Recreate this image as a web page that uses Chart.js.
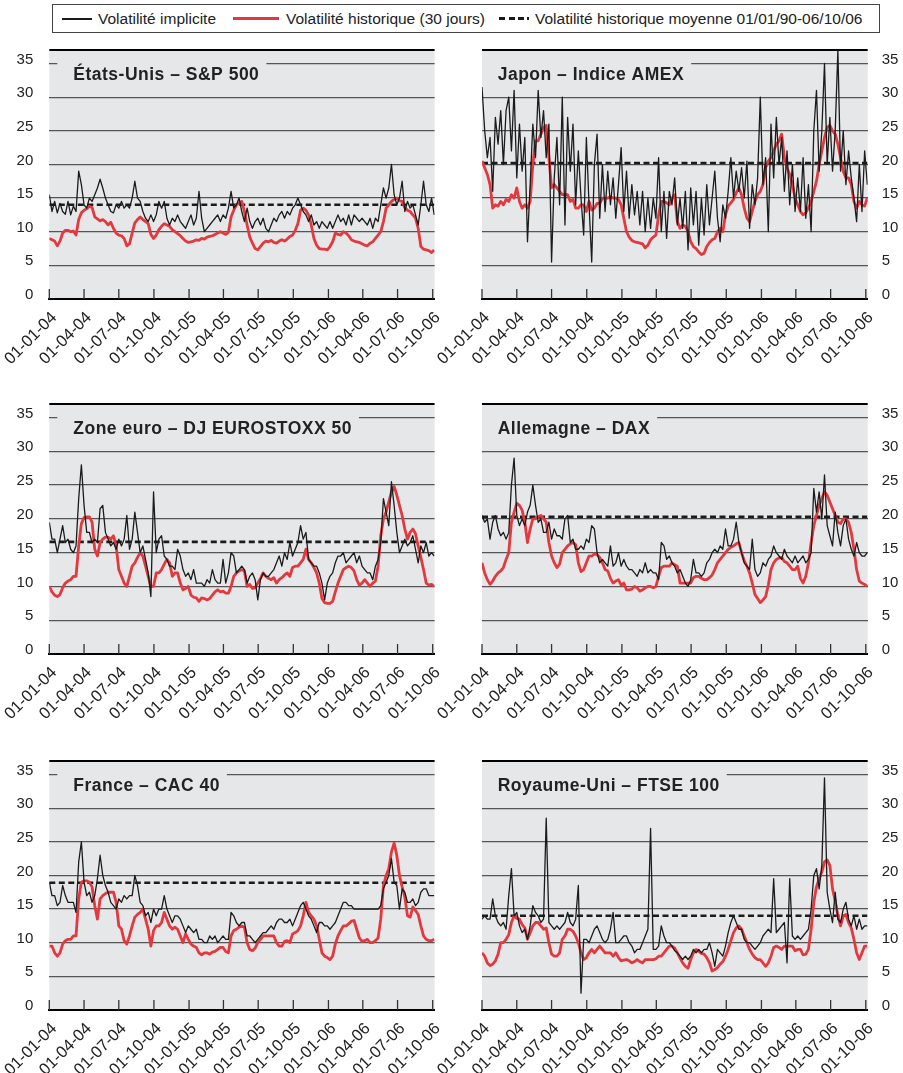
<!DOCTYPE html>
<html>
<head>
<meta charset="utf-8">
<script src="https://cdn.jsdelivr.net/npm/chart.js@4.4.1/dist/chart.umd.min.js"></script>
<style>
  html, body { margin: 0; padding: 0; }
  body { width: 903px; height: 1073px; overflow: hidden; position: relative; background: #fff;
         font-family: "Liberation Sans", Arial, sans-serif; }
  canvas { position: absolute; }
  #legend { position: absolute; left: 52px; top: 4px; width: 828px; height: 29px; box-sizing: border-box;
            border: 1px solid #444; font-size: 15.5px; color: #222; }
  #legend .sw { position: absolute; top: 13px; width: 30px; }
  #legend .lt { position: absolute; top: 5px; white-space: nowrap; }
</style>
</head>
<body>
<div id="legend">
  <span class="sw" style="left:9px; height:1.5px; background:#1b1b1b"></span>
  <span class="lt" style="left:45px">Volatilité implicite</span>
  <span class="sw" style="left:180px; width:46px; top:12px; height:3px; background:#e3383e"></span>
  <span class="lt" style="left:233px">Volatilité historique (30 jours)</span>
  <span class="sw" style="left:446px; top:12px; height:3px; background:repeating-linear-gradient(90deg,#1b1b1b 0 6px,transparent 6px 9.5px)"></span>
  <span class="lt" style="left:482px">Volatilité historique moyenne 01/01/90-06/10/06</span>
</div>
<script>
// Weekly readings (one value every 7 days from 01-01-04 to early 10-06)
const stepDays = 7;
const lastDay = 1009;

const tickDays = [0, 91, 182, 274, 366, 456, 547, 639, 731, 821, 912, 1004];
const tickLabels = ['01-01-04', '01-04-04', '01-07-04', '01-10-04', '01-01-05', '01-04-05',
                    '01-07-05', '01-10-05', '01-01-06', '01-04-06', '01-07-06', '01-10-06'];
const yTicks = [0, 5, 10, 15, 20, 25, 30, 35];

const titles = ['États-Unis – S&P 500', 'Japon – Indice AMEX', 'Zone euro – DJ EUROSTOXX 50',
                'Allemagne – DAX', 'France – CAC 40', 'Royaume-Uni – FTSE 100'];
const meanVol = [14.0, 20.2, 16.6, 20.3, 18.9, 14.0];

const usImplied = [15.5, 13, 14.5, 12.8, 14.2, 13, 12.6, 14.5, 12.5, 13.8, 13, 19, 17,
  14, 13.5, 15, 14.5, 15.5, 16.5, 17.8, 16.5, 15, 14, 13, 12.8, 14,
  13.5, 14.5, 13.5, 14, 13.5, 15, 17.5, 15, 14.5, 13, 12, 11.5, 12.5,
  11.5, 12.5, 14.5, 13.5, 14.5, 12, 11, 12, 11.5, 12.5, 11.5, 11, 10.5,
  11.5, 12.5, 11, 12, 16, 12, 10, 10.5, 11, 11.5, 12, 12.5, 11.5,
  12.5, 12, 13.5, 16, 13.5, 14, 15, 13, 11.5, 13.5, 11.5, 10.5, 11.5,
  12, 11, 12, 10.5, 10, 11, 12, 11.5, 12.5, 13, 12, 13, 12.5,
  13.5, 14, 15, 14, 13, 12.5, 11.5, 12.5, 11, 11.5, 10.5, 11.5, 11,
  10.5, 11.5, 10.5, 11.5, 12.5, 11.5, 12, 11, 12.5, 11, 12.5, 12, 11.5,
  12, 11.5, 11, 12, 10.5, 12, 11.5, 14, 16.5, 15, 16.5, 20, 15.5,
  14, 15, 17.5, 13, 14.5, 13.5, 14, 12.5, 11, 14, 17.5, 14, 13,
  15, 12.5];
const usHist = [9, 8.8, 8.6, 7.9, 8.6, 9.8, 10.2, 10.2, 10, 10.1, 9.5, 11.8, 12.8,
  13.2, 13.4, 13.8, 13.6, 12.2, 11.9, 11.6, 11.8, 11.5, 11, 11.4, 10.5, 9.8,
  9.5, 9.4, 9, 7.9, 8.2, 9.8, 11.3, 11.8, 12.2, 11.8, 11.5, 11.2, 9.6,
  9, 9.5, 10.3, 10.8, 11.2, 11, 10.8, 10.3, 10, 9.7, 9.4, 9, 8.6,
  8.4, 8.5, 8.6, 8.8, 8.7, 9, 8.9, 9.2, 9.3, 9.4, 9.6, 9.8, 10,
  9.8, 9.6, 9.9, 12.2, 13.2, 14, 14.3, 14.5, 13, 11, 9.2, 8.3, 7.5,
  7.3, 7.8, 8.3, 8.6, 8.5, 8.7, 8.4, 8.3, 8.6, 8.8, 8.6, 8.9, 9.3,
  9.5, 10.2, 11.2, 13.2, 13.5, 13.2, 12.5, 11, 9, 8, 7.5, 7.4, 7.4,
  7.3, 7.8, 8.5, 9.8, 9.6, 9.5, 10, 9.8, 9.4, 8.8, 8.6, 8.5, 8.4,
  8.2, 8, 7.9, 8.3, 8.5, 9, 9.5, 10, 11.5, 13.5, 14, 14.5, 14.8,
  15, 14.6, 14.5, 13.6, 13.2, 13, 12.5, 12, 10.5, 7.8, 7.4, 7.3, 7.2,
  6.9, 7.3];

const jpImplied = [31.5, 25, 21, 24, 16, 27, 23, 28, 20, 28, 30, 22, 31,
  18, 26, 19, 24, 8.5, 17, 26, 21, 31, 24, 28, 21, 26,
  5.5, 18, 24, 14, 30, 11, 27, 19, 26, 14, 22, 15, 9.5,
  24, 14, 5.5, 20, 24.5, 12, 20, 13, 19, 14, 18, 12, 17,
  22.5, 13, 19, 12, 17, 12.5, 16, 11, 16, 10, 15, 10.5, 15,
  12, 21, 10, 16, 9, 16, 14, 18, 11, 15, 10.5, 16, 7.3,
  16.5, 11, 16, 8, 15, 9.5, 17, 11, 15, 19, 12, 8.5, 14,
  12, 16, 21, 15, 19, 16, 19.5, 15, 20.5, 10.5, 17, 14, 18,
  30, 17, 21, 10, 26, 18, 27, 20, 24, 16, 22, 14, 20,
  13, 18, 13, 21, 12, 17, 10, 25, 31, 19, 25, 35, 20,
  27, 19, 25, 37, 19, 25, 17, 22, 18, 15, 11.5, 20, 13,
  22, 17];
const jpHist = [20.5, 19.5, 18.5, 17, 13.5, 14, 13.8, 14.5, 14, 14.8, 14.5, 15.5, 15,
  16.5, 14.5, 13.5, 14, 13.5, 14.5, 20, 23.5, 23.5, 24.5, 25.5, 25.8, 21,
  16.5, 17, 16.5, 16, 15.5, 15.5, 15.5, 14.5, 14.8, 13.5, 13.5, 14, 14,
  13, 14.5, 13.2, 13.5, 14.2, 14.2, 15, 15, 15, 15.2, 15, 15, 14.8,
  14, 12, 10, 9.2, 8.7, 8.5, 8.4, 8.3, 8.2, 7.6, 8, 8.8, 9.2,
  9.5, 12.5, 14.5, 14.5, 14.3, 14, 15, 15.5, 11.5, 10.5, 11, 10.8, 10,
  8.5, 7.8, 7.5, 7, 6.6, 6.8, 7.8, 8.4, 8.8, 9, 10, 10.5, 10,
  12.5, 13.8, 14.3, 14.8, 15.8, 16.5, 15.5, 13.5, 12, 11.5, 13, 14.5, 15.5,
  16, 17, 19.5, 20.5, 21, 22, 23, 23.5, 24.5, 21, 19.5, 18.5, 17,
  15, 14, 13, 12.5, 12.8, 13.5, 14.5, 16, 17.5, 20, 22, 24, 25.5,
  25.8, 25, 24.5, 23, 21, 19, 18, 18, 17, 14.5, 13.5, 14.5, 14,
  13.8, 15];

const euImplied = [19.5, 17, 17, 15, 17, 19, 16.5, 17, 15.5, 15, 16, 23, 28,
  22, 18, 18, 16.5, 17, 16.5, 21.5, 22, 18, 17, 16, 16.5, 15.5,
  17, 16, 17, 20.5, 15.5, 17, 21, 18, 15, 16, 14, 12, 8.5,
  24, 15, 17, 17.5, 14.5, 14, 13, 13, 12.5, 15.5, 14.5, 12.5, 11.5,
  12, 11, 12.5, 10.5, 10.5, 10.5, 10, 11, 10.5, 12.5, 11, 10.5, 10.5,
  14, 10.5, 12, 15, 14.5, 12, 12.5, 13, 12.5, 10.5, 11.5, 12, 11,
  8, 11, 12, 11.5, 11.5, 12, 12.5, 13.5, 14.5, 13, 15, 14, 16.5,
  14.5, 15.5, 16.5, 19, 17, 18, 14, 13.5, 13, 13, 12, 10.5, 8,
  10.5, 11.5, 12, 13.5, 14.5, 14.5, 15, 13.5, 14, 14.5, 15, 13.5, 14.5,
  13, 12.5, 12, 12, 11, 13, 14, 16.5, 23, 21, 19, 25.5, 22,
  18, 15, 16, 17, 16, 16.5, 17.5, 15.5, 13.5, 16, 15, 16.5, 14.5,
  15, 14.5];
const euHist = [10, 9.2, 8.7, 8.5, 8.8, 9.8, 10.5, 10.8, 11, 11.5, 11.5, 16, 19.3,
  20.2, 20.3, 20.3, 19.5, 15.5, 14.5, 16.5, 17, 17.3, 17.3, 17, 17.5, 16,
  12.5, 11.5, 10.5, 10, 11.5, 13, 13.5, 14.3, 15, 14.5, 13, 11.5, 10,
  10, 12, 12, 12.5, 13.3, 14, 13.5, 11.5, 12, 12, 10.5, 9.5, 9.7,
  10, 8.7, 8.4, 8.3, 7.8, 8.3, 8.2, 8, 8.2, 8.7, 9.2, 9.5, 9.2,
  9.3, 9, 9, 10, 11.5, 12, 12.3, 12.5, 12.3, 10, 10.3, 9.7, 9.8,
  10.5, 11.2, 12, 11.5, 11.2, 11, 11.3, 10.5, 11, 11.3, 11.7, 12, 11.5,
  12.8, 13, 13, 13.5, 14, 15.5, 14, 13.5, 12.8, 12, 10.5, 8.2, 7.6,
  7.5, 7.5, 7.8, 9.2, 10.5, 11.5, 12.5, 12.8, 13, 12.8, 12.3, 11, 10.2,
  10.5, 11, 10.5, 10, 10.5, 10.8, 13, 17.5, 20, 21, 22.5, 24, 24.8,
  23.5, 22, 20.5, 18.5, 17, 18, 18.5, 17.8, 16, 14.3, 12.5, 10.5, 10.2,
  10.3, 10];

const deImplied = [20.5, 19.5, 20, 17, 19.5, 20.5, 18.5, 17.5, 18, 17, 18, 25, 29,
  20.5, 19, 20, 19, 21, 22, 25, 22, 19.5, 20, 18, 18, 19.5,
  17, 18.5, 17.5, 17.5, 17, 20, 20.5, 16.5, 17, 15.5, 15.5, 16, 15.5,
  17, 16.5, 19, 18.5, 15, 13.5, 14, 13.5, 13, 16, 13, 13.5, 15,
  13, 14, 13, 12.5, 12.5, 12, 11.5, 12.5, 12, 13.5, 12, 12.5, 12,
  12, 11, 16.5, 16, 14, 14.5, 13.5, 13, 12, 12.5, 11.5, 10.5, 10,
  11, 14, 12, 12, 11.5, 12, 13.5, 14, 15, 15.5, 15, 16, 15.5,
  18.5, 16, 16, 17, 19.5, 16.5, 15, 13.5, 13, 12.5, 17, 12.5, 11.5,
  12, 13.5, 13, 14, 14.5, 16, 15, 14.5, 14, 15.5, 14.5, 14, 13.5,
  14.5, 13.5, 14, 14.5, 13.5, 14, 15, 24.5, 21, 24, 20, 26.5, 19,
  17.5, 16, 21, 18, 16, 19, 20, 17, 15.5, 14.5, 16.5, 15, 14.5,
  14.5, 15];
const deHist = [13.5, 12, 11, 10.3, 10.8, 11.5, 12, 12.3, 12.8, 14, 15, 19.5, 21,
  22.3, 22, 21.3, 19.5, 16.5, 18.5, 20, 20, 20.3, 20.5, 20, 19.5, 16.5,
  14.5, 13.5, 12.8, 13.3, 15, 15.5, 16, 16.3, 16.5, 16.2, 13.5, 12.2, 12.5,
  13.5, 14.5, 14.5, 14.8, 14.7, 14.3, 13.5, 12.5, 12.3, 11.2, 10.5, 10.8, 11,
  10.2, 10.5, 9.5, 9.5, 9.6, 10, 9.8, 9.3, 9.5, 9.8, 10, 10, 9.8,
  10, 11.5, 12.8, 13, 13, 13, 13.5, 13.2, 13, 10.5, 10.5, 10.5, 10.5,
  10.5, 11.3, 11.5, 11.5, 11.2, 11, 11, 11.3, 11.7, 12.5, 13.5, 14, 14.5,
  15, 15.5, 15.8, 16, 16.3, 16.5, 15, 13.8, 13, 12, 10.5, 8.8, 8.2,
  7.6, 8, 8.5, 10.2, 12.5, 13.5, 14, 14.2, 14.3, 13.7, 13.5, 13, 12.5,
  12.5, 13, 11.2, 10.5, 11.5, 13.5, 16.5, 19, 20.5, 22, 23, 24, 23.5,
  22.5, 21.5, 20.5, 19.5, 19.3, 20, 20, 19.5, 18, 15.5, 12.5, 10.8, 10.5,
  10.3, 10];

const frImplied = [19, 17, 17, 15.5, 16, 18.5, 17, 16, 16, 16, 14.5, 22, 25,
  19, 17, 17.5, 16, 17, 19.5, 23, 20, 18.5, 17.5, 16, 15.5, 15,
  16.5, 16, 17, 16.5, 17, 17, 20, 18.5, 16, 15.5, 14, 14.5, 13,
  15, 14, 15, 15, 17, 15, 14, 13, 14, 14, 13.5, 12.5, 11.5,
  12.5, 12, 11.5, 12, 10.5, 10.5, 10, 10, 11, 10.5, 11, 10, 10.5,
  11, 10.5, 10.5, 14.5, 14, 13, 12.5, 13, 13, 11, 11, 10.5, 10,
  10.5, 11, 11.5, 11.5, 12, 12.5, 12, 13, 13.5, 13.5, 13, 13, 13.5,
  12.5, 13.5, 14.5, 15.5, 16, 15, 14, 13.5, 12.5, 11.5, 13, 13, 12.5,
  12.5, 12, 12.5, 13, 14, 15, 16, 16, 15.5, 15.5, 15, 15, 15,
  15, 15, 15, 15, 15, 15, 15, 15.5, 18, 19, 20, 22.5, 19,
  18.5, 15, 18, 17.5, 16, 16, 16.5, 15.5, 16, 17.5, 18, 18, 17,
  17, 17];
const frHist = [9.5, 9.5, 8.5, 8, 8.5, 9.8, 10.3, 10.5, 10.5, 11, 11, 16.5, 19,
  19.2, 19.2, 19, 18.3, 15.5, 13.5, 16.5, 17, 17.3, 17.5, 17.5, 17.5, 16,
  12.5, 12, 10.3, 9.8, 11, 12.5, 13.8, 14.2, 14.5, 15, 13.5, 12, 9.5,
  11.8, 12.5, 12.5, 13, 14.5, 13.5, 12.5, 12, 12.3, 12, 11, 10, 11.3,
  10.5, 9.8, 9.5, 9.3, 8.5, 8.2, 8.5, 8.5, 8.3, 8.6, 8.7, 9, 9.3,
  9.3, 8.7, 8.5, 11, 11.8, 12, 12.3, 12.5, 12.3, 10, 9, 8.8, 9.2,
  10, 10.5, 11, 11, 11, 11, 11, 10, 9.5, 9.5, 10.2, 10.3, 10,
  11.3, 11.5, 11.8, 12.5, 14, 16, 14.5, 14, 13.5, 12.5, 10.5, 8.5, 8,
  7.8, 7.5, 8, 9.8, 11, 11.8, 12.5, 12.5, 12.8, 13.2, 13.3, 12, 10.7,
  10.2, 10.3, 10.5, 10, 10, 10.3, 10.7, 13.5, 18.5, 20, 21, 23.5, 24.8,
  23, 20, 18.3, 16.8, 14, 13.8, 15.3, 14.8, 14.2, 12.5, 11, 10.5, 10.3,
  10.3, 10.5];

const ukImplied = [13.5, 14, 13.5, 13.5, 16.5, 14, 13, 12.5, 13, 12, 17, 21, 14,
  14.5, 12.5, 11.5, 12, 10.5, 12.5, 15.5, 14.5, 14, 13, 13.5, 28.5, 13,
  12.5, 12, 12.5, 12, 12.5, 13, 14.5, 13, 12.5, 13.5, 18.5, 2.5, 10.5,
  10.5, 10, 11, 12, 12.5, 11.5, 10.5, 10, 10.5, 12, 14.5, 10, 10,
  10.5, 11, 11, 10, 9.5, 8.5, 9, 9, 10, 11, 12, 27, 9,
  9, 9.5, 12.5, 11, 10, 10, 9.5, 8.8, 8.5, 8, 7.5, 8, 7.5,
  8, 9, 8.5, 9, 8.5, 9, 9, 10, 8.5, 6.5, 9, 8.5, 8,
  9.5, 11.5, 13, 14, 13, 12, 12, 10.5, 10, 10, 9.5, 9, 9.5,
  10, 11, 11.5, 12, 11.5, 19.5, 11.5, 12, 12.5, 13, 7, 19.5, 11,
  10.5, 11, 10.5, 11, 11.5, 12, 15, 20, 21, 18, 21.5, 34.5, 17.5,
  15, 13, 17.5, 13.5, 13, 15, 16, 13.5, 12.5, 14, 12, 13.5, 12,
  12.5, 12.5];
const ukHist = [8.5, 8, 7, 6.6, 6.8, 7.3, 8.3, 10, 10, 10.5, 11.2, 13, 14,
  13.6, 13.5, 12.7, 12.2, 10.5, 11.5, 12.5, 13, 13, 12.5, 12, 12.2, 10,
  8.3, 8, 8, 8.5, 10.5, 11, 12, 12, 11.7, 11, 10, 8.5, 7.5,
  7.8, 8.5, 9, 8.5, 9, 9.5, 9, 8.5, 8.5, 8.5, 8, 8.5, 7.8,
  7.3, 7.4, 7.5, 7.3, 7, 7.2, 7.5, 7.2, 7, 7.5, 7.5, 7.5, 7.5,
  7.6, 8, 8, 8.5, 9, 9.5, 9.5, 9.2, 8.5, 7.7, 7, 6.5, 6.2,
  7.5, 8.5, 9, 8.7, 8.4, 8.3, 7.8, 7, 5.8, 6, 6.3, 6.8, 7.2,
  8, 9, 10.3, 11.5, 12.2, 12.5, 12, 11, 10, 9, 8.3, 7.8, 7.5,
  7.5, 7, 6.5, 7, 8, 9.3, 9.5, 9.3, 9, 9.5, 9.5, 9.5, 9.5,
  8.8, 9, 9, 8.2, 8.3, 9, 12, 16, 18.3, 19.5, 20.5, 22, 22.3,
  21.5, 18, 16.2, 14, 12.5, 14, 14.2, 13, 12.2, 10.5, 8.5, 7.5, 8.5,
  9.5, 9.5];

const series = [[usImplied, usHist], [jpImplied, jpHist], [euImplied, euHist],
                [deImplied, deHist], [frImplied, frHist], [ukImplied, ukHist]];

const FONT = '"Liberation Sans", Arial, sans-serif';
const TITLE_FONT = 'bold 17.5px ' + FONT;
const PANEL_BG = '#e6e7e9';
Chart.defaults.font.family = FONT;

// gray plot background, title box over the top grid line, x tick marks, top border
const panelDeco = {
  id: 'panelDeco',
  beforeDraw(chart) {
    const { ctx, chartArea: a } = chart;
    ctx.save();
    ctx.fillStyle = PANEL_BG;
    ctx.fillRect(a.left, a.top, a.right - a.left, a.bottom - a.top);
    ctx.restore();
  },
  beforeDatasetsDraw(chart, args, opts) {
    const { ctx, chartArea: a } = chart;
    ctx.save();
    ctx.font = TITLE_FONT;
    ctx.letterSpacing = '0.5px';
    const w = ctx.measureText(opts.title).width;
    const boxL = a.left + opts.boxInset;
    ctx.fillStyle = PANEL_BG;
    ctx.fillRect(boxL, a.top + 3, a.left + opts.textX + w + 7 - boxL, 34);
    const xs = chart.scales.x;
    ctx.strokeStyle = '#333';
    ctx.lineWidth = 1.3;
    tickDays.forEach(d => {
      const px = xs.getPixelForValue(d);
      ctx.beginPath();
      ctx.moveTo(px, a.bottom);
      ctx.lineTo(px, a.bottom - 10);
      ctx.stroke();
    });
    ctx.restore();
  },
  afterDatasetsDraw(chart, args, opts) {
    const { ctx, chartArea: a } = chart;
    ctx.save();
    ctx.font = TITLE_FONT;
    ctx.letterSpacing = '0.5px';
    ctx.fillStyle = '#222';
    ctx.textBaseline = 'middle';
    ctx.fillText(opts.title, a.left + opts.textX, a.top + 25);
    ctx.strokeStyle = '#000';
    ctx.lineWidth = 2.2;
    ctx.beginPath();
    ctx.moveTo(a.left, a.top);
    ctx.lineTo(a.right, a.top);
    ctx.stroke();
    ctx.restore();
  }
};

const rows = [
  { canvasTop: 40, padTop: 10, plot: 249 },
  { canvasTop: 394, padTop: 10, plot: 250 },
  { canvasTop: 751, padTop: 10, plot: 249 }
];

series.forEach(([implied, hist], p) => {
  const isLeft = p % 2 === 0;
  const row = rows[Math.floor(p / 2)];
  const cw = isLeft ? 450 : 473;
  const ch = row.padTop + row.plot + 70;
  const canvas = document.createElement('canvas');
  canvas.width = cw;
  canvas.height = ch;
  canvas.style.left = (isLeft ? 0 : 430) + 'px';
  canvas.style.top = row.canvasTop + 'px';
  canvas.style.width = cw + 'px';
  canvas.style.height = ch + 'px';
  document.body.appendChild(canvas);

  new Chart(canvas, {
    type: 'line',
    data: {
      datasets: [
        {
          label: 'Volatilité implicite',
          data: implied.map((v, i) => ({ x: i * stepDays, y: v })),
          borderColor: '#1b1b1b',
          borderWidth: 1.3
        },
        {
          label: 'Volatilité historique (30 jours)',
          data: hist.map((v, i) => ({ x: i * stepDays, y: v })),
          borderColor: '#e3383e',
          borderWidth: 2.8
        },
        {
          label: 'Volatilité historique moyenne 01/01/90-06/10/06',
          data: [{ x: 0, y: meanVol[p] }, { x: (implied.length - 1) * stepDays, y: meanVol[p] }],
          borderColor: '#1b1b1b',
          borderWidth: 2.6,
          borderDash: [6, 3.5]
        }
      ]
    },
    options: {
      responsive: false,
      animation: false,
      layout: { padding: { left: isLeft ? 0 : 52, right: isLeft ? 15.4 : 0, top: row.padTop, bottom: 0 } },
      elements: { point: { radius: 0 }, line: { tension: 0, borderJoinStyle: 'round' } },
      plugins: {
        legend: { display: false },
        tooltip: { enabled: false },
        panelDeco: { title: titles[p], boxInset: isLeft ? 8 : 0, textX: isLeft ? 24 : 15.7 }
      },
      scales: {
        x: {
          type: 'linear',
          min: 0,
          max: lastDay,
          grid: { drawOnChartArea: false, drawTicks: false },
          border: { color: '#000', width: 2 },
          afterBuildTicks: s => { s.ticks = tickDays.map(v => ({ value: v })); },
          afterFit: s => { s.height = 70; s.paddingLeft = 0; s.paddingRight = 0; },
          ticks: {
            autoSkip: false,
            minRotation: 45,
            maxRotation: 45,
            padding: 9,
            labelOffset: 5,
            color: '#222',
            font: { size: 16.5 },
            callback: (v, i) => tickLabels[i]
          }
        },
        y: {
          position: isLeft ? 'left' : 'right',
          min: 0,
          max: 37,
          grid: { color: '#555', lineWidth: 1.2, drawTicks: false },
          border: { display: false },
          afterBuildTicks: s => { s.ticks = yTicks.map(v => ({ value: v })); },
          afterFit: s => { s.width = isLeft ? 49.3 : 35.3; s.paddingTop = 0; s.paddingBottom = 0; },
          ticks: {
            padding: isLeft ? 16 : 14,
            labelOffset: -4,
            color: '#222',
            font: { size: 15 }
          }
        }
      }
    },
    plugins: [panelDeco]
  });
});
</script>
</body>
</html>
